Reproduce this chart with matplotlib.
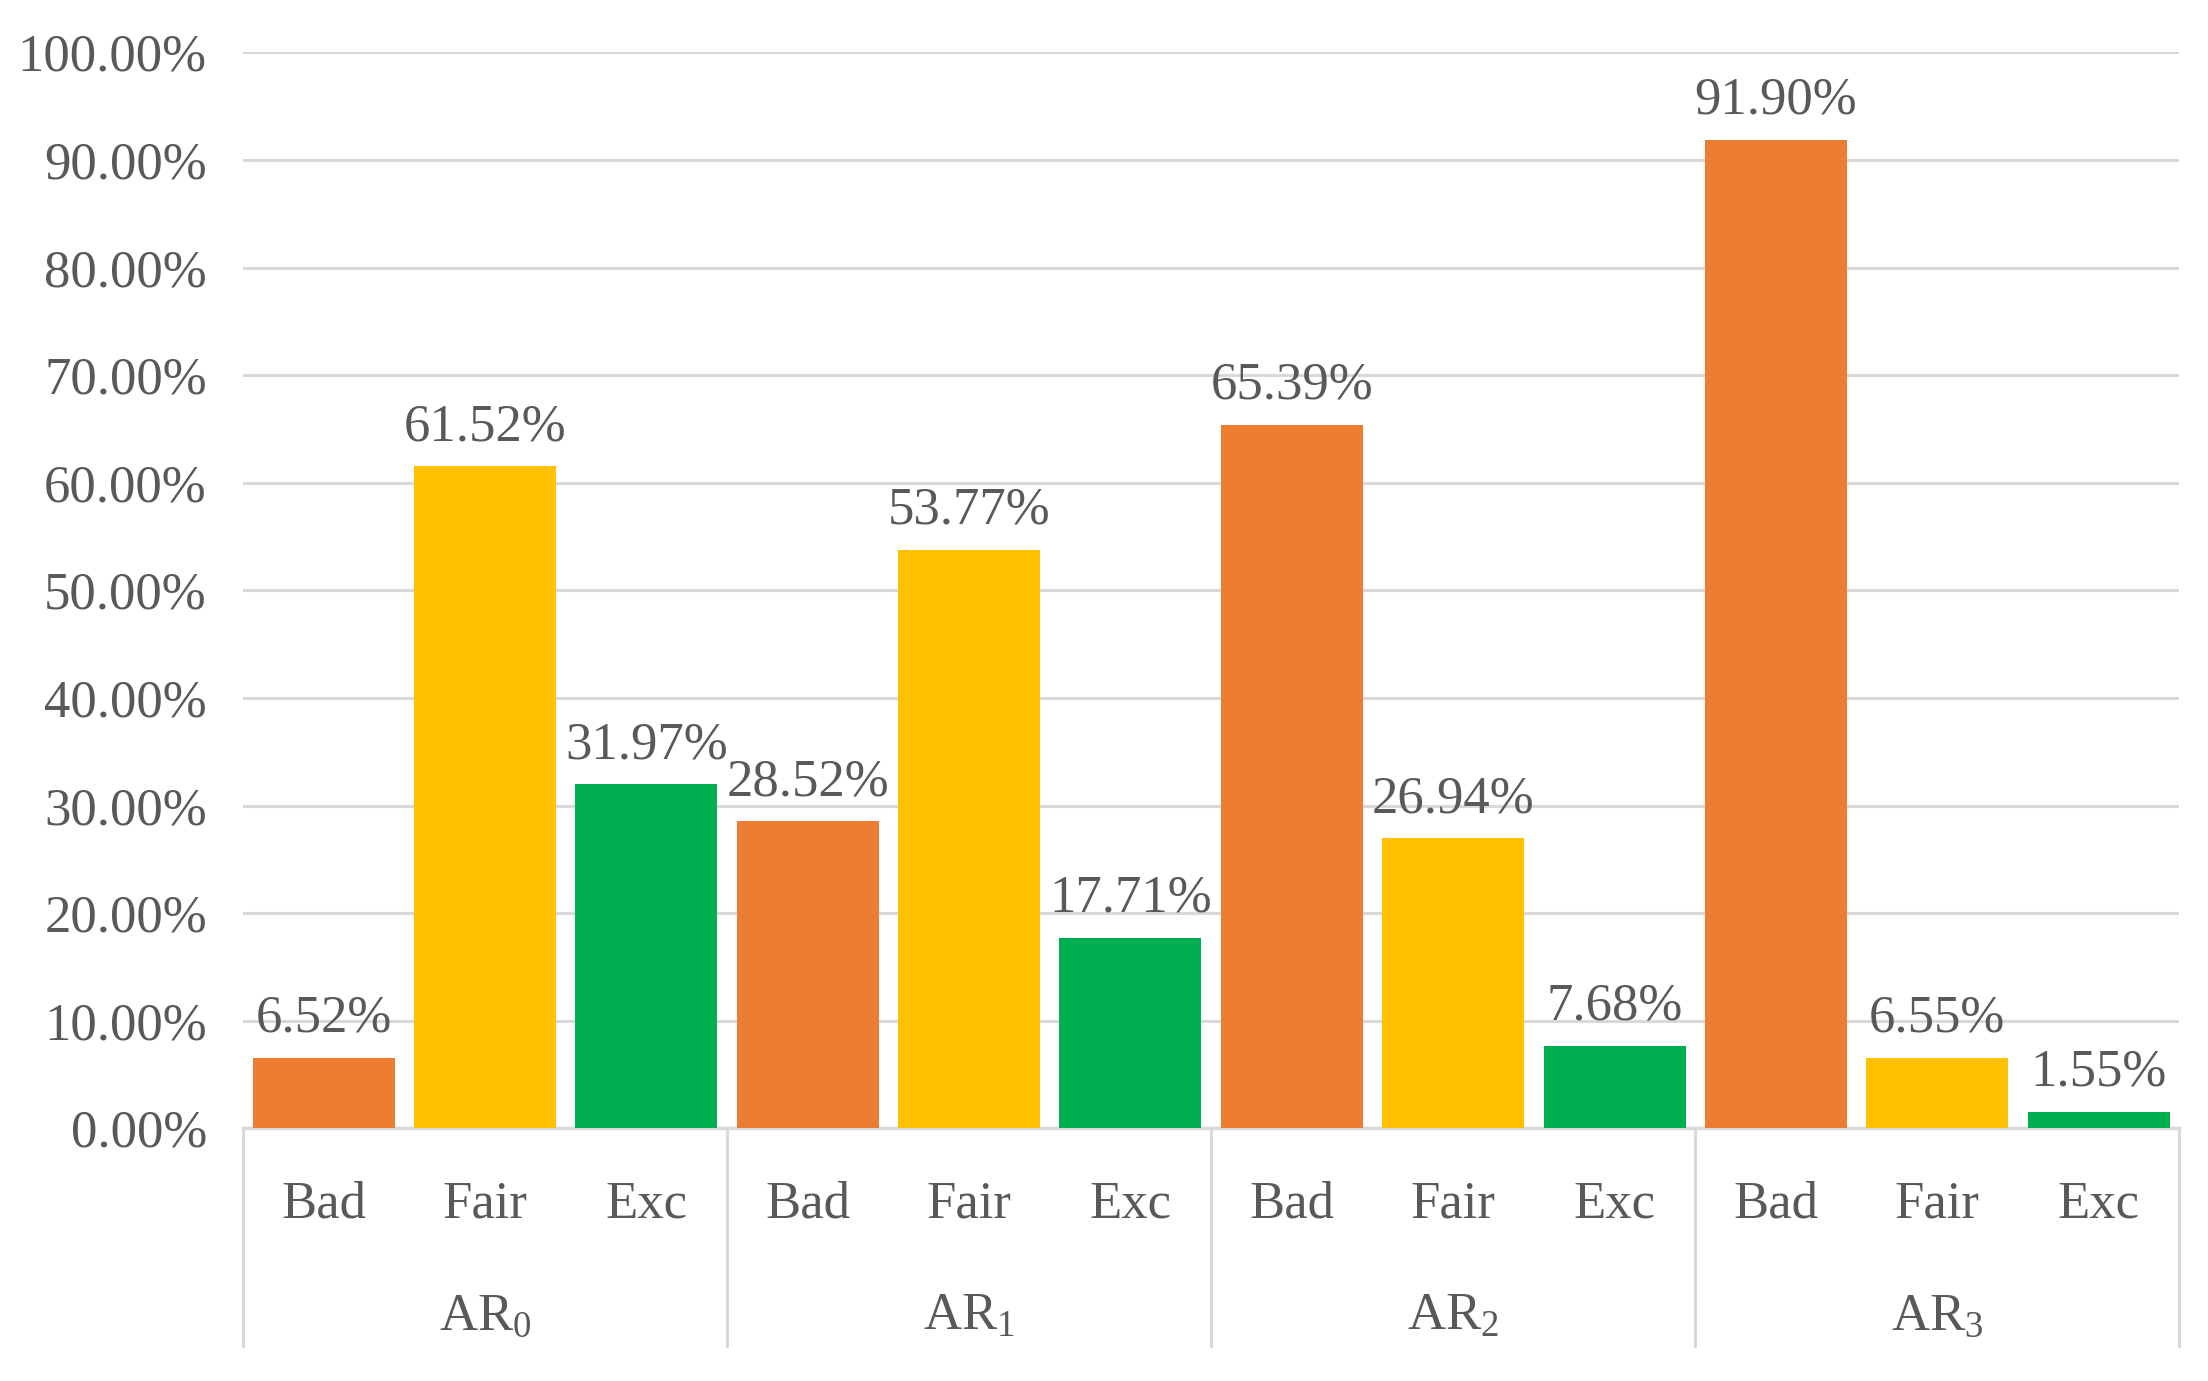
import numpy as np
import matplotlib
matplotlib.use("Agg")
import matplotlib.pyplot as plt
import matplotlib.transforms as mtransforms

# Font setup (serif like the original)
plt.rcParams['font.family'] = ['Liberation Serif', 'DejaVu Serif']
plt.rcParams['mathtext.fontset'] = 'custom'
plt.rcParams['mathtext.rm'] = 'Liberation Serif'
plt.rcParams['mathtext.it'] = 'Liberation Serif'
plt.rcParams['mathtext.default'] = 'regular'

# Data
groups = ["AR$_0$", "AR$_1$", "AR$_2$", "AR$_3$"]
levels = ["Bad", "Fair", "Exc"]
bad = [6.52, 28.52, 65.39, 91.90]
fair = [61.52, 53.77, 26.94, 6.55]
exc = [31.97, 17.71, 7.68, 1.55]
yticks = [0, 10, 20, 30, 40, 50, 60, 70, 80, 90, 100]

colors = ["#ED7D31", "#FFC000", "#00B050"]
text_col = "#595959"
grid_col = "#D9D9D9"
fs = 38

fig = plt.figure(figsize=(22.08, 13.81), dpi=100)
ax = fig.add_axes([0.110, 0.183, 0.877, 0.779])

# Plot bars, 3 per group
n_lev = len(levels)
for i, series in enumerate([bad, fair, exc]):
    x = np.arange(len(groups)) * n_lev + i
    bars = ax.bar(x, series, width=0.88, color=colors[i], zorder=3)
    for xi, v in zip(x, series):
        ax.annotate(f"{v:.2f}%", (xi, v), xytext=(0, 11), textcoords="offset points",
                    ha="center", va="bottom", fontsize=fs, color=text_col)

ax.set_xlim(-0.5, len(groups) * n_lev - 0.5)
ax.set_ylim(0, 100)
ax.set_yticks(yticks)
ax.set_yticklabels([f"{t:.2f}%" for t in yticks])
ax.tick_params(axis="y", length=0, pad=26, labelsize=fs, labelcolor=text_col)
ax.tick_params(axis="x", length=0, labelbottom=False)
ax.grid(axis="y", color=grid_col, linewidth=2.2, zorder=0)

for s in ["top", "right", "left"]:
    ax.spines[s].set_visible(False)
ax.spines["bottom"].set_color(grid_col)
ax.spines["bottom"].set_linewidth(2.5)

# Multi-level category axis
trans = mtransforms.blended_transform_factory(ax.transData, ax.transAxes)
for g in range(len(groups) + 1):
    xb = g * n_lev - 0.5
    ax.plot([xb, xb], [0, -0.202], transform=trans, color=grid_col,
            linewidth=2.2, clip_on=False)
for g, name in enumerate(groups):
    for i, lev in enumerate(levels):
        ax.text(g * n_lev + i, -0.071, lev, transform=trans, ha="center",
                va="center", fontsize=fs, color=text_col)
    ax.text(g * n_lev + 1, -0.175, name, transform=trans, ha="center",
            va="center", fontsize=fs, color=text_col)

fig.savefig("out.png", dpi=100)
